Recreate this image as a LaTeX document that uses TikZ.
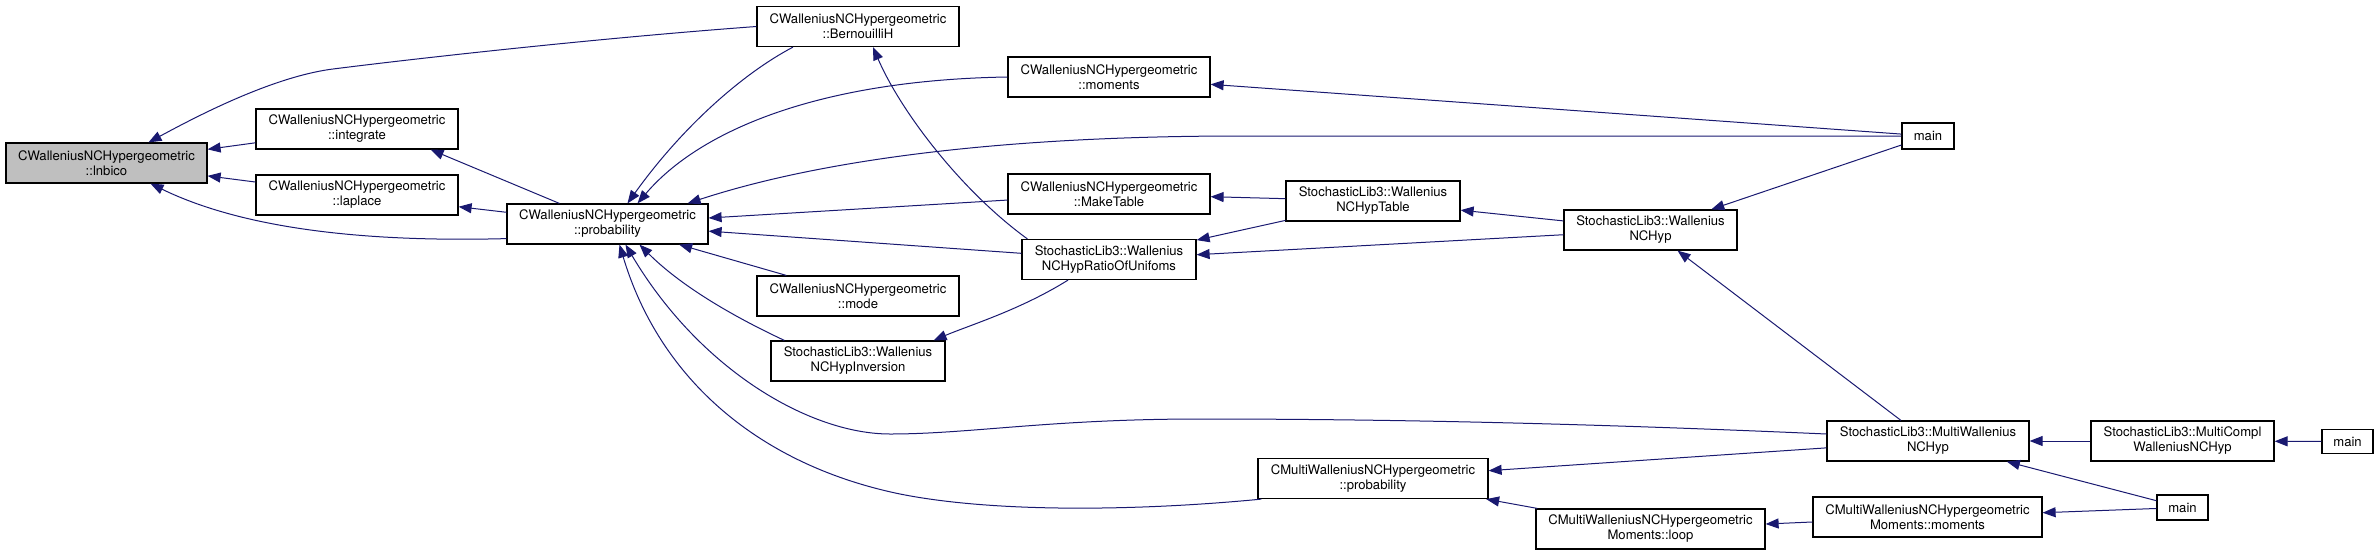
\documentclass[tikz,border=0pt]{standalone}
\usepackage{fontspec}
\setmainfont{TeX Gyre Heros}
\usetikzlibrary{arrows.meta,calc}
\definecolor{edgeblue}{HTML}{191970}
\definecolor{hlgray}{HTML}{BFBFBF}

\begin{document}
\begin{tikzpicture}[x=1pt,y=-1pt,
  fn/.style={draw=black,line width=1.2pt,fill=white,align=center,inner sep=0pt,
    minimum height=40,font=\fontsize{13.1}{15}\selectfont},
  edge/.style={draw=edgeblue,line width=1pt,-{Triangle[length=13pt,width=10pt]}}]
  \useasboundingbox (0,0) rectangle (2379,555);

  % Function boxes, left to right
  \node[fn,fill=hlgray,minimum width=201] (lnbico) at (106.5,163) {CWalleniusNCHypergeometric\\::lnbico};
  \node[fn,minimum width=202] (integ) at (357,129) {CWalleniusNCHypergeometric\\::integrate};
  \node[fn,minimum width=202] (laplace) at (357,195) {CWalleniusNCHypergeometric\\::laplace};
  \node[fn,minimum width=201] (prob) at (607.5,224) {CWalleniusNCHypergeometric\\::probability};
  \node[fn,minimum width=202] (bern) at (858,26.5) {CWalleniusNCHypergeometric\\::BernouilliH};
  \node[fn,minimum width=202] (mode) at (858,296) {CWalleniusNCHypergeometric\\::mode};
  \node[fn,minimum width=174] (invers) at (858,361) {StochasticLib3::Wallenius\\NCHypInversion};
  \node[fn,minimum width=202] (moments) at (1109,77) {CWalleniusNCHypergeometric\\::moments};
  \node[fn,minimum width=202] (maketab) at (1109,194) {CWalleniusNCHypergeometric\\::MakeTable};
  \node[fn,minimum width=174] (ratio) at (1109,259.5) {StochasticLib3::Wallenius\\NCHypRatioOfUnifoms};
  \node[fn,minimum width=174] (hyptab) at (1373,201) {StochasticLib3::Wallenius\\NCHypTable};
  \node[fn,minimum width=230] (mprob) at (1373,478.5) {CMultiWalleniusNCHypergeometric\\::probability};
  \node[fn,minimum width=173] (hyp) at (1650.5,230) {StochasticLib3::Wallenius\\NCHyp};
  \node[fn,minimum width=229] (mloop) at (1650.5,529) {CMultiWalleniusNCHypergeometric\\Moments::loop};
  \node[fn,minimum width=52,minimum height=26] (mainA) at (1928,136) {main};
  \node[fn,minimum width=202] (mhyp) at (1928,441) {StochasticLib3::MultiWallenius\\NCHyp};
  \node[fn,minimum width=229] (mmom) at (1927.5,517) {CMultiWalleniusNCHypergeometric\\Moments::moments};
  \node[fn,minimum width=183] (mcompl) at (2182.5,441) {StochasticLib3::MultiCompl\\WalleniusNCHyp};
  \node[fn,minimum width=51,minimum height=25] (mainB) at (2182.5,507.5) {main};
  \node[fn,minimum width=51,minimum height=24] (mainC) at (2347.5,441.5) {main};

  % Straight calls
  \foreach \a/\b in {integ/lnbico, laplace/lnbico, prob/laplace, maketab/prob, ratio/prob,
      mode/prob, hyptab/maketab, hyptab/ratio, hyp/ratio, hyp/hyptab, mainA/moments,
      mainA/hyp, mhyp/hyp, mhyp/mprob, mloop/mprob, mmom/mloop, mainB/mmom, mainB/mhyp,
      mcompl/mhyp, mainC/mcompl}
    \draw[edge] (\a) -- (\b);
  \draw[edge] ($(prob.north west)+(53,0)$) -- ($(integ.south east)+(-28,0)$);

  % Curved calls into lnbico
  \draw[edge] (bern.west) .. controls (600,38) and (420,58) .. (333,69)
    .. controls (270,77) and (190,120) .. ($(lnbico.north)+(42,0)$);
  \draw[edge] ($(prob.south west)+(0,-6)$) .. controls (380,242) and (250,232) .. ($(lnbico.south)+(44,0)$);

  % Calls into probability from above
  \draw[edge] ($(bern.south)+(-65,0)$) .. controls (740,75) and (680,130) .. ($(prob.north)+(20,0)$);
  \draw[edge] (moments.west) .. controls (820,80) and (700,130) .. ($(prob.north)+(30,0)$);
  \draw[edge] (mainA.west) -- (1240,136) .. controls (1000,136) and (820,160) .. ($(prob.north east)+(-21,0)$);

  % Calls into probability from below
  \draw[edge] ($(invers.north west)+(14,0)$) .. controls (730,315) and (680,285) .. ($(prob.south)+(32,0)$);
  \draw[edge] ($(mhyp.west)+(0,-7)$) .. controls (1600,424) and (1400,419) .. (1200,419)
    .. controls (1050,419) and (970,434) .. (890,434)
    .. controls (810,434) and (700,370) .. ($(prob.south)+(18,0)$);
  \draw[edge] ($(mprob.south west)+(4,0)$) .. controls (1150,510) and (1000,514) .. (900,494)
    .. controls (760,465) and (660,380) .. ($(prob.south)+(12,0)$);

  % Calls made by the ratio-of-uniforms sampler
  \draw[edge] ($(ratio.north west)+(6,0)$) .. controls (960,190) and (900,110) .. ($(bern.south)+(15,0)$);
  \draw[edge] ($(ratio.south)+(-41,0)$) .. controls (1020,310) and (970,325) .. ($(invers.north east)+(-12,0)$);
\end{tikzpicture}
\end{document}
